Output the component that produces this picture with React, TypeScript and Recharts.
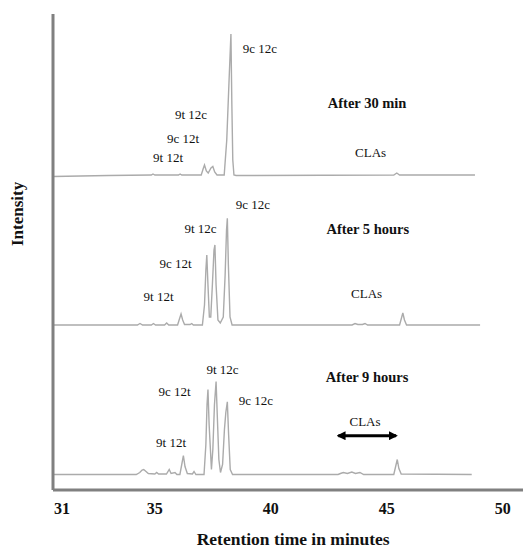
import { LineChart, Line, XAxis, YAxis, ReferenceDot, ReferenceLine } from 'recharts';

// retention time axis (minutes)
const timeDomain = [30.61, 50.87];
const timeTicks = [31, 35, 40, 45, 50];

// After 30 min
const min30Time = [
  30.61, 33.0, 34.85, 34.92, 35.0, 36.02, 36.09, 36.16, 37.0, 37.08, 37.14, 37.22, 37.3, 37.42,
  37.5, 37.58, 37.68, 37.99, 38.1, 38.2, 38.28, 38.32, 38.36, 38.41, 38.5, 45.3, 45.43, 45.55, 48.8,
];
const min30Signal = [
  -1.5, -0.5, 0, 1, 0, 0, 1, 0, 0, 6, 10, 4, 2, 7,
  8.5, 3, 0, 0, 35, 95, 141, 70, 15, 0, -0.5, 0, 2, 0, 0,
];

// After 5 hours
const hours5Time = [
  30.61, 34.25, 34.36, 34.47, 34.85, 34.94, 35.03, 35.42, 35.51, 35.6, 35.98, 36.06, 36.13, 36.2,
  36.28, 36.52, 36.59, 36.66, 37.05, 37.14, 37.2, 37.24, 37.29, 37.35, 37.41, 37.48, 37.55, 37.59,
  37.64, 37.72, 37.82, 37.95, 38.03, 38.09, 38.125, 38.17, 38.24, 38.33, 43.5, 43.63, 43.75, 43.95,
  44.06, 44.17, 45.55, 45.62, 45.69, 45.76, 45.85, 49.02,
];
const hours5Signal = [
  0, 0, 1.5, 0, 0, 1.5, 0, 0, 2, 0, 0, 6, 11, 5,
  0.5, 0.5, 1.5, 0, 0, 20, 55, 70, 40, 8, 8, 40, 75, 80,
  40, 5, 2, 8, 50, 95, 106.7, 60, 8, 0, 0, 1.5, 0.5, 0.5,
  1.5, 0, 0, 6, 12, 5, 0, 0,
];

// After 9 hours
const hours9Time = [
  30.61, 34.2, 34.35, 34.45, 34.52, 34.62, 34.72, 35.0, 35.08, 35.16, 35.5, 35.62, 35.7, 35.87,
  35.95, 36.08, 36.16, 36.23, 36.3, 36.4, 36.62, 36.69, 36.77, 37.12, 37.2, 37.25, 37.29, 37.34,
  37.44, 37.5, 37.57, 37.64, 37.69, 37.76, 37.83, 37.92, 38.0, 38.06, 38.125, 38.18, 38.25, 38.35,
  42.9, 43.0, 43.125, 43.3, 43.49, 43.65, 43.84, 44.0, 45.3, 45.38, 45.45, 45.52, 45.62, 48.66,
];
const hours9Signal = [
  0, 0, 2, 4.5, 5, 3, 1, 0.5, 2, 0.5, 0.5, 5, 1, 2,
  0, 0, 10, 19, 8, 1, 0.5, 3, 0, 0, 30, 70, 85, 50,
  5, 25, 70, 93, 60, 15, 2, 10, 45, 62, 72.6, 40, 5, 0,
  0, 1, 2, 1, 2.5, 1, 2, 0, 0, 8, 15, 6, 0.5, 0,
];

const traceNames = ['After 30 min', 'After 5 hours', 'After 9 hours'];
const traceOffsets = [315, 165, 15.5];

// peak annotations: [text, time, height on the plot]
const peakLabels: [string, number, number][] = [
  ['9c 12c', 39.53, 441.7],
  ['9t 12c', 36.56, 375.7],
  ['9c 12t', 36.22, 351.7],
  ['9t 12t', 35.57, 332.3],
  ['CLAs', 44.3, 337.3],
  ['9c 12c', 39.23, 286],
  ['9t 12c', 36.97, 261.7],
  ['9c 12t', 35.89, 226.7],
  ['9t 12t', 35.16, 193.3],
  ['CLAs', 44.13, 196.7],
  ['9t 12c', 37.92, 120.7],
  ['9c 12t', 35.85, 99],
  ['9c 12c', 39.36, 90],
  ['9t 12t', 35.7, 47.7],
  ['CLAs', 44.06, 68.3],
];
const titleTimes = [44.15, 44.18, 44.15];
const titleHeights = [387.3, 261, 113.3];
const clasRange = [42.91, 45.4];
const clasArrowHeight = 54.3;

const serif = "'Liberation Serif', 'Times New Roman', serif";
const traceColor = '#ababab';
const axisColor = '#808080';

const traces = [
  { time: min30Time, signal: min30Signal },
  { time: hours5Time, signal: hours5Signal },
  { time: hours9Time, signal: hours9Signal },
].map((trace, i) => ({
  name: traceNames[i],
  points: trace.time.map((t, j) => ({ t, v: trace.signal[j] + traceOffsets[i] })),
}));

function YTitle({ viewBox }: any) {
  const x = viewBox.x + viewBox.width - 35;
  const y = viewBox.y + viewBox.height * 0.42;
  return (
    <text
      x={x}
      y={y}
      transform={`rotate(-90 ${x} ${y})`}
      textAnchor="middle"
      dominantBaseline="central"
      fontFamily={serif}
      fontWeight="bold"
      fontSize={17}
      fill="#111"
    >
      Intensity
    </text>
  );
}

function XTitle({ viewBox }: any) {
  return (
    <text
      x={viewBox.x + viewBox.width * 0.511}
      y={viewBox.y + 55}
      textAnchor="middle"
      fontFamily={serif}
      fontWeight="bold"
      fontSize={17.5}
      fill="#111"
    >
      Retention time in minutes
    </text>
  );
}

export default function App() {
  return (
    <div style={{ width: 523, height: 550, background: '#fff' }}>
      <style>{'body{margin:0}'}</style>
      <LineChart width={523} height={550} margin={{ top: 14, right: 0, bottom: 0, left: 52 }}>
        <defs>
          <marker
            id="clasArrow"
            viewBox="0 0 10 10"
            refX="8"
            refY="5"
            markerWidth="9"
            markerHeight="9"
            markerUnits="userSpaceOnUse"
            orient="auto-start-reverse"
          >
            <path d="M0,0 L10,5 L0,10 z" fill="#000" />
          </marker>
        </defs>
        <XAxis
          type="number"
          dataKey="t"
          domain={timeDomain}
          ticks={timeTicks}
          allowDataOverflow
          height={60}
          tickLine={false}
          tickSize={0}
          tickMargin={13}
          axisLine={{ stroke: axisColor, strokeWidth: 3 }}
          tick={{ fill: '#111', fontSize: 16, fontWeight: 'bold', fontFamily: serif }}
          label={{ content: XTitle }}
        />
        <YAxis
          type="number"
          domain={[0, 476]}
          allowDataOverflow
          width={1}
          tick={false}
          tickLine={false}
          axisLine={{ stroke: axisColor, strokeWidth: 3 }}
          label={{ content: YTitle }}
        />
        {traces.map((trace) => (
          <Line
            key={trace.name}
            name={trace.name}
            data={trace.points}
            dataKey="v"
            type="linear"
            stroke={traceColor}
            strokeWidth={1.4}
            dot={false}
            activeDot={false}
            isAnimationActive={false}
          />
        ))}
        {peakLabels.map(([text, t, h], i) => (
          <ReferenceDot
            key={`peak-${i}`}
            x={t}
            y={h}
            r={0}
            fill="none"
            stroke="none"
            label={{ value: text, position: 'center', fill: '#111', fontSize: 13, fontFamily: serif }}
          />
        ))}
        {traceNames.map((name, i) => (
          <ReferenceDot
            key={name}
            x={titleTimes[i]}
            y={titleHeights[i]}
            r={0}
            fill="none"
            stroke="none"
            label={{
              value: name,
              position: 'center',
              fill: '#111',
              fontSize: 14.5,
              fontWeight: 'bold',
              fontFamily: serif,
            }}
          />
        ))}
        <ReferenceLine
          segment={[
            { x: clasRange[0], y: clasArrowHeight },
            { x: clasRange[1], y: clasArrowHeight },
          ]}
          stroke="#000"
          strokeWidth={3}
          markerStart="url(#clasArrow)"
          markerEnd="url(#clasArrow)"
        />
      </LineChart>
    </div>
  );
}
